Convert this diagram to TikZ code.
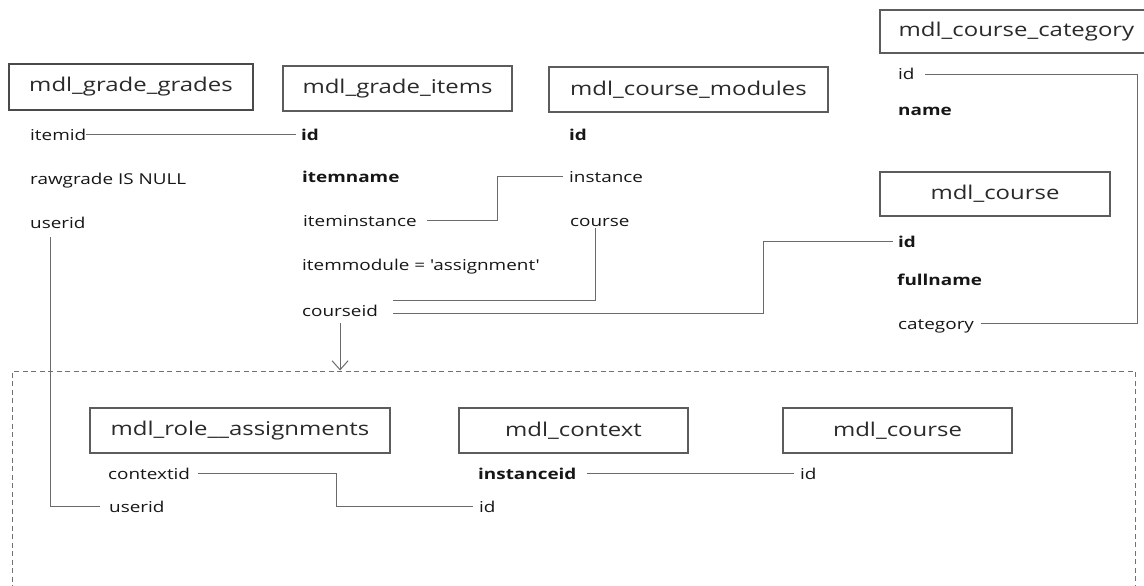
\documentclass[tikz,border=0pt]{standalone}
\usepackage{fontspec}
\setmainfont{Open Sans}[FakeStretch=1.26, Ligatures=TeXOff]
\usetikzlibrary{arrows.meta}
\definecolor{ink}{HTML}{161616}
\definecolor{titleink}{HTML}{2A2A2A}
\definecolor{boxgray}{HTML}{5C5C5C}
\definecolor{boxdark}{HTML}{4A4A4A}
\definecolor{linkgray}{HTML}{6A6A6A}
\definecolor{dashgray}{HTML}{707070}

\begin{document}
\begin{tikzpicture}[x=1pt, y=-1pt,
  tbl/.style={draw=boxgray, line width=1.3pt, inner sep=0pt, minimum height=45pt,
              font=\fontsize{19}{22}\selectfont, text=titleink},
  fld/.style={anchor=base west, inner sep=0pt, text height=11pt, text depth=0pt,
              font=\fontsize{15}{18}\selectfont, text=ink},
  key/.style={fld, font=\fontsize{15}{18}\selectfont\bfseries},
  link/.style={draw=linkgray, line width=1pt},
  group/.style={draw=dashgray, line width=1pt, dash pattern=on 5pt off 3.5pt, inner sep=0pt}
]
\useasboundingbox (0,0) rectangle (1144,586);
\clip (0,0) rectangle (1144,586);

% dashed group around the lower tables
\node[group, minimum width=1123pt, minimum height=260pt] (grp) at (573.5,501) {};

% table headers
\node[tbl, draw=boxdark, line width=2.2pt, minimum width=244pt, minimum height=46pt] (gg) at (131,87) {mdl\_grade\_grades};
\node[tbl, minimum width=229pt] (gi) at (397.5,88.5) {mdl\_grade\_items};
\node[tbl, minimum width=279pt] (cm) at (688.5,89.5) {mdl\_course\_modules};
\node[tbl, minimum width=273pt, minimum height=43pt] (cc) at (1016.5,31.5) {mdl\_course\_category};
\node[tbl, minimum width=230pt, minimum height=44pt] (mc) at (995,194) {mdl\_course};
\node[tbl, minimum width=300pt] (ra) at (240,430.5) {mdl\_role\_\_assignments};
\node[tbl, minimum width=229pt] (ctx) at (573.5,430.5) {mdl\_context};
\node[tbl, minimum width=229pt] (mc2) at (897.5,430.5) {mdl\_course};

% mdl_grade_grades
\node[fld] (g-itemid) at (30,140) {itemid};
\node[fld] (g-raw) at (30,184) {rawgrade IS NULL};
\node[fld] (g-user) at (30,228) {userid};

% mdl_grade_items
\node[key] (i-id) at (301,140) {id};
\node[key] (i-name) at (302,182) {itemname};
\node[fld] (i-inst) at (303,226) {iteminstance};
\node[fld] (i-mod) at (302,270) {itemmodule = 'assignment'};
\node[fld] (i-course) at (302,316) {courseid};

% mdl_course_modules
\node[key] (m-id) at (569,140) {id};
\node[fld] (m-inst) at (569,182) {instance};
\node[fld] (m-course) at (570,226) {course};

% mdl_course_category
\node[fld] (cat-id) at (898,80) {id};
\node[key] (cat-name) at (898,116) {name};

% mdl_course
\node[key] (c-id) at (898,247) {id};
\node[key] (c-full) at (897,285) {fullname};
\node[fld] (c-cat) at (898,329) {category};

% lower tables
\node[fld] (r-ctx) at (108,479) {contextid};
\node[fld] (r-user) at (109,512) {userid};
\node[key] (x-inst) at (478,479) {instanceid};
\node[fld] (x-id) at (479,512) {id};
\node[fld] (c2-id) at (800,479) {id};

% bend columns
\coordinate (k1) at (497,0);
\coordinate (k2) at (595,0);
\coordinate (k3) at (763,0);
\coordinate (k4) at (1137,0);
\coordinate (k5) at (50,0);
\coordinate (k6) at (336,0);

% joins
\draw[link] (g-itemid.east) -- ([xshift=-5pt]i-id.west);
\draw[link] ([xshift=10pt]i-inst.east) -| (k1 |- m-inst.west) -- ([xshift=-6pt]m-inst.west);
\draw[link] ([yshift=-2pt]k2 |- m-course.south) |- ([xshift=15pt,yshift=10.5pt]i-course.east);
\draw[link] ([xshift=15pt,yshift=-2.5pt]i-course.east) -| (k3 |- c-id.west) -- ([xshift=-5pt]c-id.west);
\draw[link] ([xshift=7pt]c-cat.east) -| (k4 |- cat-id.east) -- ([xshift=10pt]cat-id.east);
\draw[link] ([yshift=-9pt]k5 |- g-user.south) |- ([xshift=-9pt]r-user.west);
\draw[link] ([xshift=8pt]r-ctx.east) -| (k6 |- x-id.west) -- ([xshift=-6pt]x-id.west);
\draw[link] ([xshift=10pt]x-inst.east) -- ([xshift=-6pt]c2-id.west);

% filter arrow into the group
\draw[link, -{Straight Barb[length=9pt,width=16pt]}] ([yshift=-7pt]i-course.south) -- (i-course.south |- grp.north);
\end{tikzpicture}
\end{document}
